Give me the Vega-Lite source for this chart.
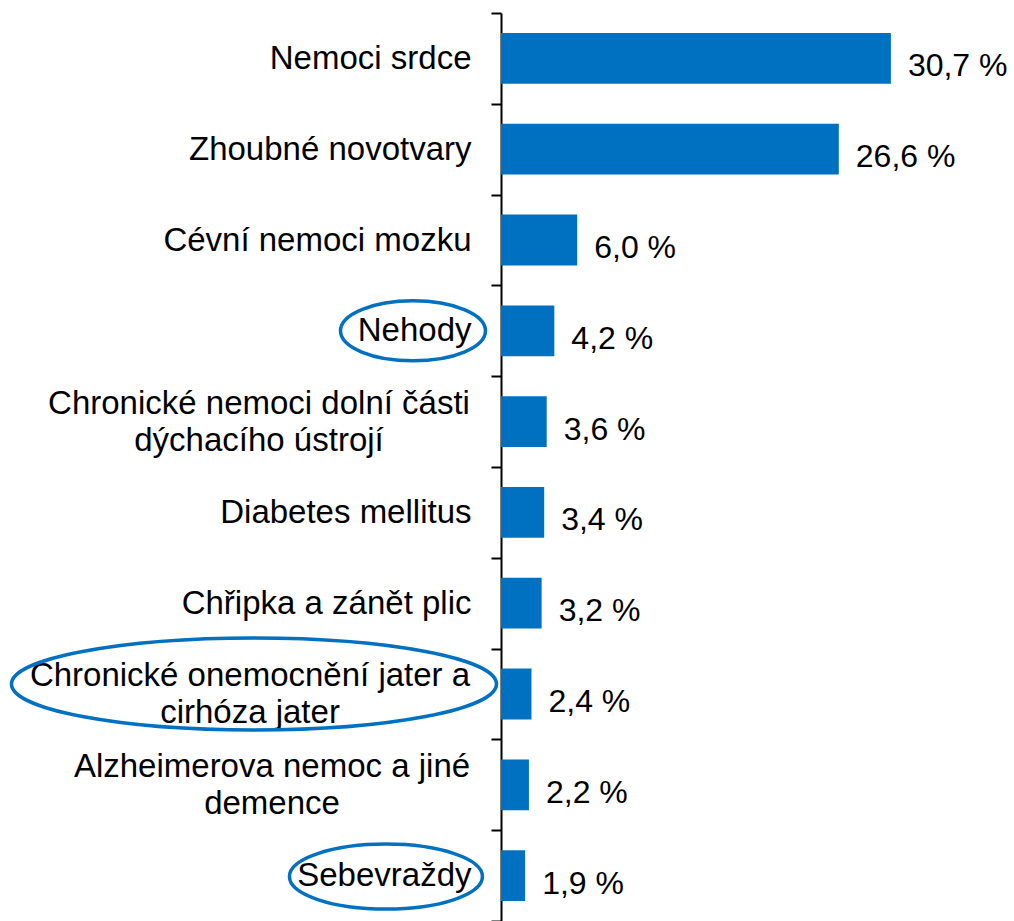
{
  "$schema": "https://vega.github.io/schema/vega-lite/v6.json",
  "width": 508,
  "height": 908,
  "autosize": {"type": "none"},
  "padding": {"left": 501, "top": 13, "right": 0, "bottom": 0},
  "background": "white",
  "config": {"view": {"stroke": null}, "font": "Liberation Sans"},
  "data": {
    "values": [
      {"pricina": "Nemoci srdce", "podil": 30.7},
      {"pricina": "Zhoubné novotvary", "podil": 26.6},
      {"pricina": "Cévní nemoci mozku", "podil": 6.0},
      {"pricina": "Nehody", "podil": 4.2},
      {"pricina": "Chronické nemoci dolní části dýchacího ústrojí", "podil": 3.6},
      {"pricina": "Diabetes mellitus", "podil": 3.4},
      {"pricina": "Chřipka a zánět plic", "podil": 3.2},
      {"pricina": "Chronické onemocnění jater a cirhóza jater", "podil": 2.4},
      {"pricina": "Alzheimerova nemoc a jiné demence", "podil": 2.2},
      {"pricina": "Sebevraždy", "podil": 1.9}
    ]
  },
  "encoding": {
    "y": {
      "field": "pricina",
      "type": "nominal",
      "sort": null,
      "scale": {
        "domain": ["Nemoci srdce", "Zhoubné novotvary", "Cévní nemoci mozku", "Nehody", "Chronické nemoci dolní části dýchacího ústrojí", "Diabetes mellitus", "Chřipka a zánět plic", "Chronické onemocnění jater a cirhóza jater", "Alzheimerova nemoc a jiné demence", "Sebevraždy"],
        "paddingInner": 0,
        "paddingOuter": 0
      },
      "axis": {
        "title": null,
        "tickBand": "extent",
        "tickSize": 10,
        "tickWidth": 2,
        "tickColor": "black",
        "domainColor": "black",
        "domainWidth": 2,
        "labelFont": "Liberation Sans",
        "labelFontSize": 33,
        "labelColor": "black",
        "labelLimit": 0,
        "labelPadding": 20,
        "labelExpr": "indexof(datum.label, 'dýchacího') >= 0 || indexof(datum.label, 'cirhóza') >= 0 || indexof(datum.label, 'Alzheimerova') >= 0 ? '' : datum.label"
      }
    }
  },
  "layer": [
    {
      "mark": {"type": "bar", "color": "#0070C0", "height": {"band": 0.56}},
      "encoding": {
        "x": {"field": "podil", "type": "quantitative", "scale": {"domain": [0, 40]}, "axis": null}
      }
    },
    {
      "transform": [{"calculate": "replace(format(datum.podil, '.1f'), '.', ',') + ' %'", "as": "popisek"}],
      "mark": {"type": "text", "align": "left", "baseline": "middle", "dx": 17, "dy": 8, "fontSize": 32, "font": "Liberation Sans", "color": "black"},
      "encoding": {
        "x": {"field": "podil", "type": "quantitative"},
        "text": {"field": "popisek", "type": "nominal"}
      }
    },
    {
      "transform": [{"filter": "datum.pricina == 'Chronické nemoci dolní části dýchacího ústrojí'"}],
      "mark": {"type": "text", "align": "center", "baseline": "middle", "dx": -242, "dy": -18, "lineHeight": 37, "fontSize": 33, "font": "Liberation Sans", "color": "black",
        "text": ["Chronické nemoci dolní části", "dýchacího ústrojí"]},
      "encoding": {"x": {"datum": 0, "type": "quantitative"}}
    },
    {
      "transform": [{"filter": "datum.pricina == 'Chronické onemocnění jater a cirhóza jater'"}],
      "mark": {"type": "text", "align": "center", "baseline": "middle", "dx": -251, "dy": -18, "lineHeight": 37, "fontSize": 33, "font": "Liberation Sans", "color": "black",
        "text": ["Chronické onemocnění jater a", "cirhóza jater"]},
      "encoding": {"x": {"datum": 0, "type": "quantitative"}}
    },
    {
      "transform": [{"filter": "datum.pricina == 'Alzheimerova nemoc a jiné demence'"}],
      "mark": {"type": "text", "align": "center", "baseline": "middle", "dx": -229, "dy": -18, "lineHeight": 37, "fontSize": 33, "font": "Liberation Sans", "color": "black",
        "text": ["Alzheimerova nemoc a jiné", "demence"]},
      "encoding": {"x": {"datum": 0, "type": "quantitative"}}
    },
    {
      "transform": [{"filter": "datum.pricina == 'Nehody'"}],
      "mark": {"type": "point", "filled": false, "color": "#0070C0", "strokeWidth": 3.5, "opacity": 1, "size": 21025,
        "shape": "M1,0 C1,0.2286 0.5523,0.414 0,0.414 C-0.5523,0.414 -1,0.2286 -1,0 C-1,-0.2286 -0.5523,-0.414 0,-0.414 C0.5523,-0.414 1,-0.2286 1,0 Z"},
      "encoding": {"x": {"datum": -6.93, "type": "quantitative"}}
    },
    {
      "transform": [{"filter": "datum.pricina == 'Chronické onemocnění jater a cirhóza jater'"}],
      "mark": {"type": "point", "filled": false, "color": "#0070C0", "strokeWidth": 3.5, "opacity": 1, "size": 235225, "yOffset": -10,
        "shape": "M1,0 C1,0.105 0.5523,0.19 0,0.19 C-0.5523,0.19 -1,0.105 -1,0 C-1,-0.105 -0.5523,-0.19 0,-0.19 C0.5523,-0.19 1,-0.105 1,0 Z"},
      "encoding": {"x": {"datum": -19.45, "type": "quantitative"}}
    },
    {
      "transform": [{"filter": "datum.pricina == 'Sebevraždy'"}],
      "mark": {"type": "point", "filled": false, "color": "#0070C0", "strokeWidth": 3.5, "opacity": 1, "size": 37249, "yOffset": 1,
        "shape": "M1,0 C1,0.186 0.5523,0.337 0,0.337 C-0.5523,0.337 -1,0.186 -1,0 C-1,-0.186 -0.5523,-0.337 0,-0.337 C0.5523,-0.337 1,-0.186 1,0 Z"},
      "encoding": {"x": {"datum": -9.06, "type": "quantitative"}}
    }
  ]
}
